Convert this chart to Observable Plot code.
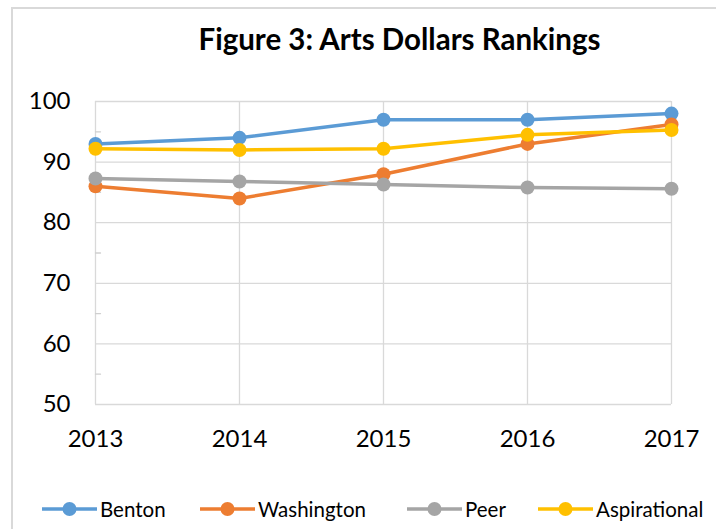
<!DOCTYPE html>
<html>
<head>
<meta charset="utf-8">
<script src="https://cdn.jsdelivr.net/npm/d3@7"></script>
<script src="https://cdn.jsdelivr.net/npm/@observablehq/plot@0.6"></script>
<style>
  html, body { margin: 0; padding: 0; background: #fff; }
  #wrap { position: relative; width: 716px; height: 529px; overflow: hidden; font-family: Lato, "Open Sans", sans-serif; }
  #border { position: absolute; left: 11px; top: 7px; width: 760px; height: 600px; border: 2px solid #d9d9d9; box-sizing: border-box; }
  #chart { position: absolute; left: 0; top: 0; }
  #legend { position: absolute; left: 42px; top: 497px; display: flex; align-items: center; font-size: 20.5px; color: #000; }
  .item { display: flex; align-items: center; gap: 3px; }
</style>
</head>
<body>
<div id="wrap">
  <div id="border"></div>
  <div id="chart"></div>
  <div id="legend"></div>
</div>
<script>
const years = [2013, 2014, 2015, 2016, 2017];
const seriesNames = ["Benton", "Washington", "Peer", "Aspirational"];
const colors = ["#5B9BD5", "#ED7D31", "#A5A5A5", "#FFC000"];
const benton = [93, 94, 97, 97, 98];
const washington = [86, 84, 88, 93, 96.2];
const peer = [87.3, 86.8, 86.3, 85.8, 85.6];
const aspirational = [92.2, 92.0, 92.2, 94.5, 95.3];
const yTicks = [50, 60, 70, 80, 90, 100];
const yMinor = [55, 65, 75, 85, 95];
const title = "Figure 3: Arts Dollars Rankings";

const values = [benton, washington, peer, aspirational];
const data = [];
seriesNames.forEach((s, i) => years.forEach((yr, j) => data.push({series: s, year: yr, value: values[i][j]})));

const grid = "#d9d9d9";
const tickShape = { draw(ctx, l) { ctx.moveTo(0, 0); ctx.lineTo(0, -l); } };

const chart = Plot.plot({
  width: 716,
  height: 470,
  marginLeft: 95,
  marginRight: 45,
  marginTop: 101,
  marginBottom: 66,
  style: { fontFamily: "Lato, 'Open Sans', sans-serif", fontSize: "22px", color: "#000", background: "transparent" },
  x: { domain: [2013, 2017] },
  y: { domain: [50, 100] },
  color: { domain: seriesNames, range: colors },
  marks: [
    Plot.ruleY(yTicks, { stroke: grid, strokeWidth: 1.3 }),
    Plot.ruleX(years, { y1: 50, y2: 100, stroke: grid, strokeWidth: 1.3 }),
    Plot.vector(yMinor, { x: 2013, y: d => d, length: 5, rotate: 90, anchor: "start", shape: tickShape, stroke: "#cfcfcf", strokeWidth: 1.3 }),
    Plot.axisY({ ticks: yTicks, tickSize: 0, tickPadding: 25, fontSize: 24, label: null, tickFormat: d => String(d) }),
    Plot.axisX({ ticks: years, tickSize: 0, tickPadding: 25, fontSize: 24, label: null, tickFormat: d => String(d) }),
    Plot.line(data, { x: "year", y: "value", z: "series", stroke: "series", strokeWidth: 3.5 }),
    Plot.dot(data, { x: "year", y: "value", fill: "series", r: 7 }),
    Plot.text([title], { frameAnchor: "top", dy: -61, dx: 16, fontSize: 29.5, fontWeight: "bold", lineAnchor: "middle", fill: "#000" })
  ]
});
document.getElementById("chart").appendChild(chart);

const itemWidths = [158, 207, 131, 180];
const legend = document.getElementById("legend");
seriesNames.forEach((s, i) => {
  const item = document.createElement("div");
  item.className = "item";
  item.style.width = itemWidths[i] + "px";
  item.innerHTML = `<svg width="55" height="18"><line x1="0" y1="9" x2="55" y2="9" stroke="${colors[i]}" stroke-width="3.5"/><circle cx="27.5" cy="9" r="7" fill="${colors[i]}"/></svg><span>${s}</span>`;
  legend.appendChild(item);
});
</script>
</body>
</html>
